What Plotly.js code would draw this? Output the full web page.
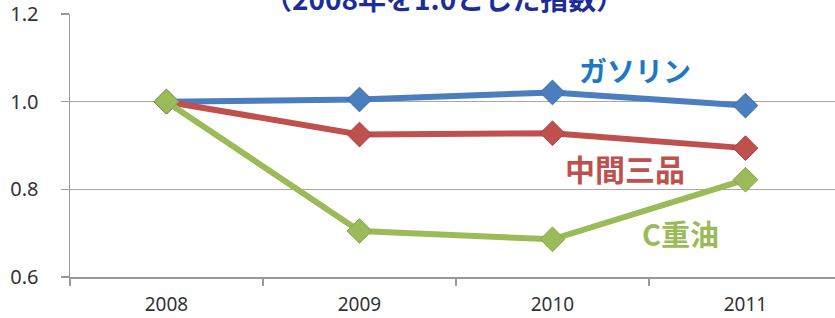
<!DOCTYPE html>
<html>
<head>
<meta charset="utf-8">
<script src="https://cdn.plot.ly/plotly-3.0.1.min.js"></script>
<style>html,body{margin:0;padding:0;background:#fff;}#chart{width:835px;height:318px;}</style>
</head>
<body>
<div id="chart"></div>
<script>
const years = ['2008', '2009', '2010', '2011'];
const gasoline = [1.0, 1.005, 1.021, 0.991];
const middle3 = [1.0, 0.925, 0.928, 0.894];
const heavyC = [1.0, 0.705, 0.686, 0.822];
const seriesNames = ['ガソリン', '中間三品', 'C重油'];
const titleText = '（2008年を1.0とした指数）';

const colors = ['#4a7ebf', '#c0504d', '#9bbb59'];
const edge = ['#3d6aa6', '#a84340', '#86a64a'];
const data = [gasoline, middle3, heavyC].map((ys, i) => ({
  x: years, y: ys, type: 'scatter', mode: 'lines+markers', name: seriesNames[i],
  line: {color: colors[i], width: 6},
  marker: {symbol: 'diamond', size: 19, color: colors[i], line: {color: edge[i], width: 1}},
  hoverinfo: 'none'
}));

const cjk = '"Noto Sans CJK JP", "Noto Sans", sans-serif';
const layout = {
  width: 835, height: 318,
  margin: {l: 70, r: 0, t: 14, b: 41, pad: 0},
  paper_bgcolor: '#fff', plot_bgcolor: '#fff',
  showlegend: false,
  font: {family: '"Noto Sans", sans-serif', size: 20, color: '#333'},
  xaxis: {
    type: 'category', range: [-0.5, 3.464], tickson: 'boundaries',
    ticks: 'outside', ticklen: 7, tickcolor: '#999', tickwidth: 1.5,
    showline: true, linecolor: '#999', linewidth: 1.5, showgrid: false,
    tickfont: {size: 19, color: '#333'}, ticklabelstandoff: 10
  },
  yaxis: {
    range: [0.6, 1.2], dtick: 0.2, tick0: 0.6, tickformat: '.1f',
    ticks: 'outside', ticklen: 8, tickcolor: '#999', tickwidth: 1.5,
    showline: true, linecolor: '#999', linewidth: 1.5,
    showgrid: true, gridcolor: '#a6a6a6', gridwidth: 1.5, zeroline: false,
    tickfont: {size: 20, color: '#333'}, ticklabelstandoff: 18
  },
  annotations: [
    {text: '<b>' + titleText + '</b>', xref: 'paper', yref: 'paper', x: (444-70)/765, y: (277+2)/263, yanchor: 'middle', xanchor: 'center', showarrow: false, font: {family: cjk, size: 28, color: '#1c2e96'}},
    {text: '<b>' + seriesNames[0] + '</b>', xref: 'paper', yref: 'paper', x: (635-70)/765, y: (277-70)/263, xanchor: 'center', yanchor: 'middle', showarrow: false, font: {family: cjk, size: 28, color: '#1f78c4'}},
    {text: '<b>' + seriesNames[1] + '</b>', xref: 'paper', yref: 'paper', x: (625-70)/765, y: (277-168)/263, xanchor: 'center', yanchor: 'middle', showarrow: false, font: {family: cjk, size: 30, color: '#c0504d'}},
    {text: '<b>' + seriesNames[2] + '</b>', xref: 'paper', yref: 'paper', x: (680-70)/765, y: (277-233)/263, xanchor: 'center', yanchor: 'middle', showarrow: false, font: {family: cjk, size: 29, color: '#9bbb59'}}
  ]
};
Plotly.newPlot('chart', data, layout, {displayModeBar: false, staticPlot: true});
</script>
</body>
</html>
